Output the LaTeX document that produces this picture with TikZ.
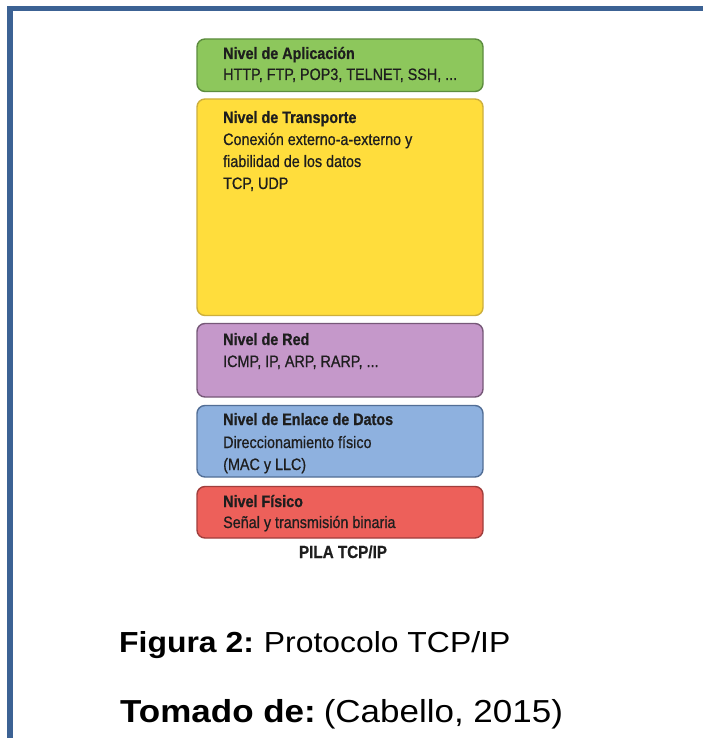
\documentclass[tikz,border=0pt]{standalone}
\usepackage{fontspec}
\setmainfont{Liberation Sans}
\newfontfamily\layerfont[FakeStretch=0.87,FakeBold=0.7]{Liberation Sans}
\newfontfamily\capfont[FakeStretch=1.1]{Liberation Sans}
\definecolor{framecol}{RGB}{60,98,148}
\definecolor{appfill}{RGB}{141,199,92}
\definecolor{appline}{RGB}{92,140,62}
\definecolor{trafill}{RGB}{255,221,60}
\definecolor{traline}{RGB}{205,175,60}
\definecolor{redfill}{RGB}{197,152,202}
\definecolor{redline}{RGB}{118,88,120}
\definecolor{enlfill}{RGB}{142,177,223}
\definecolor{enlline}{RGB}{82,110,150}
\definecolor{fisfill}{RGB}{237,96,90}
\definecolor{fisline}{RGB}{160,62,60}
\definecolor{layertext}{RGB}{30,30,30}
\tikzset{
  layer/.style={rounded corners=8pt, line width=1.4pt, minimum width=286pt, inner sep=0pt},
  layertxt/.style={anchor=base west, inner sep=0pt, text=layertext,
    font=\layerfont\fontsize{16.5}{22}\selectfont},
  layerhead/.style={layertxt, font=\layerfont\bfseries\fontsize{16.5}{22}\selectfont},
  captxt/.style={anchor=base west, inner sep=0pt, text=black},
}
\begin{document}
\begin{tikzpicture}[x=1pt,y=-1pt]
\useasboundingbox (0,0) rectangle (703,738);
\fill[white] (0,0) rectangle (703,738);
% frame: top and left rules
\draw[framecol, line width=5.3pt, line join=miter] (10,738) -- (10,8.5) -- (703,8.5);

% layer boxes
\node[layer, draw=appline, fill=appfill, minimum height=52.5pt] (app) at (340,65.25) {};
\node[layer, draw=traline, fill=trafill, minimum height=216.5pt] (tra) at (340,207.25) {};
\node[layer, draw=redline, fill=redfill, minimum height=73.5pt] (red) at (340,360.25) {};
\node[layer, draw=enlline, fill=enlfill, minimum height=71.5pt] (enl) at (340,441.25) {};
\node[layer, draw=fisline, fill=fisfill, minimum height=51.5pt] (fis) at (340,512.25) {};

% layer texts
\node[layerhead] (appH) at (223,59) {Nivel de Aplicación};
\node[layertxt] (appT) at (223,80) {HTTP, FTP, POP3, TELNET, SSH, ...};

\node[layerhead] (traH) at (223,123) {Nivel de Transporte};
\node[layertxt] (traT1) at (223,145) {Conexión externo-a-externo y};
\node[layertxt] (traT2) at (223,167) {fiabilidad de los datos};
\node[layertxt] (traT3) at (223,189) {TCP, UDP};

\node[layerhead] (redH) at (223,345) {Nivel de Red};
\node[layertxt] (redT) at (223,367) {ICMP, IP, ARP, RARP, ...};

\node[layerhead] (enlH) at (223,425) {Nivel de Enlace de Datos};
\node[layertxt] (enlT1) at (223,448) {Direccionamiento físico};
\node[layertxt] (enlT2) at (223,470) {(MAC y LLC)};

\node[layerhead] (fisH) at (223,507) {Nivel Físico};
\node[layertxt] (fisT) at (223,528) {Señal y transmisión binaria};

\node[anchor=base, inner sep=0pt, text=layertext,
  font=\layerfont\bfseries\fontsize{17.5}{18}\selectfont] (pila) at (343,558) {PILA TCP/IP};

% caption
\node[captxt, font=\capfont\fontsize{29}{34}\selectfont] (fig) at (119,652)
  {\textbf{Figura 2:}\hspace{10pt}Protocolo TCP/IP};
\node[captxt, font=\capfont\fontsize{31.8}{36}\selectfont] (src) at (120,722)
  {\textbf{Tomado de:}\hspace{8pt}(Cabello, 2015)};
\end{tikzpicture}
\end{document}
